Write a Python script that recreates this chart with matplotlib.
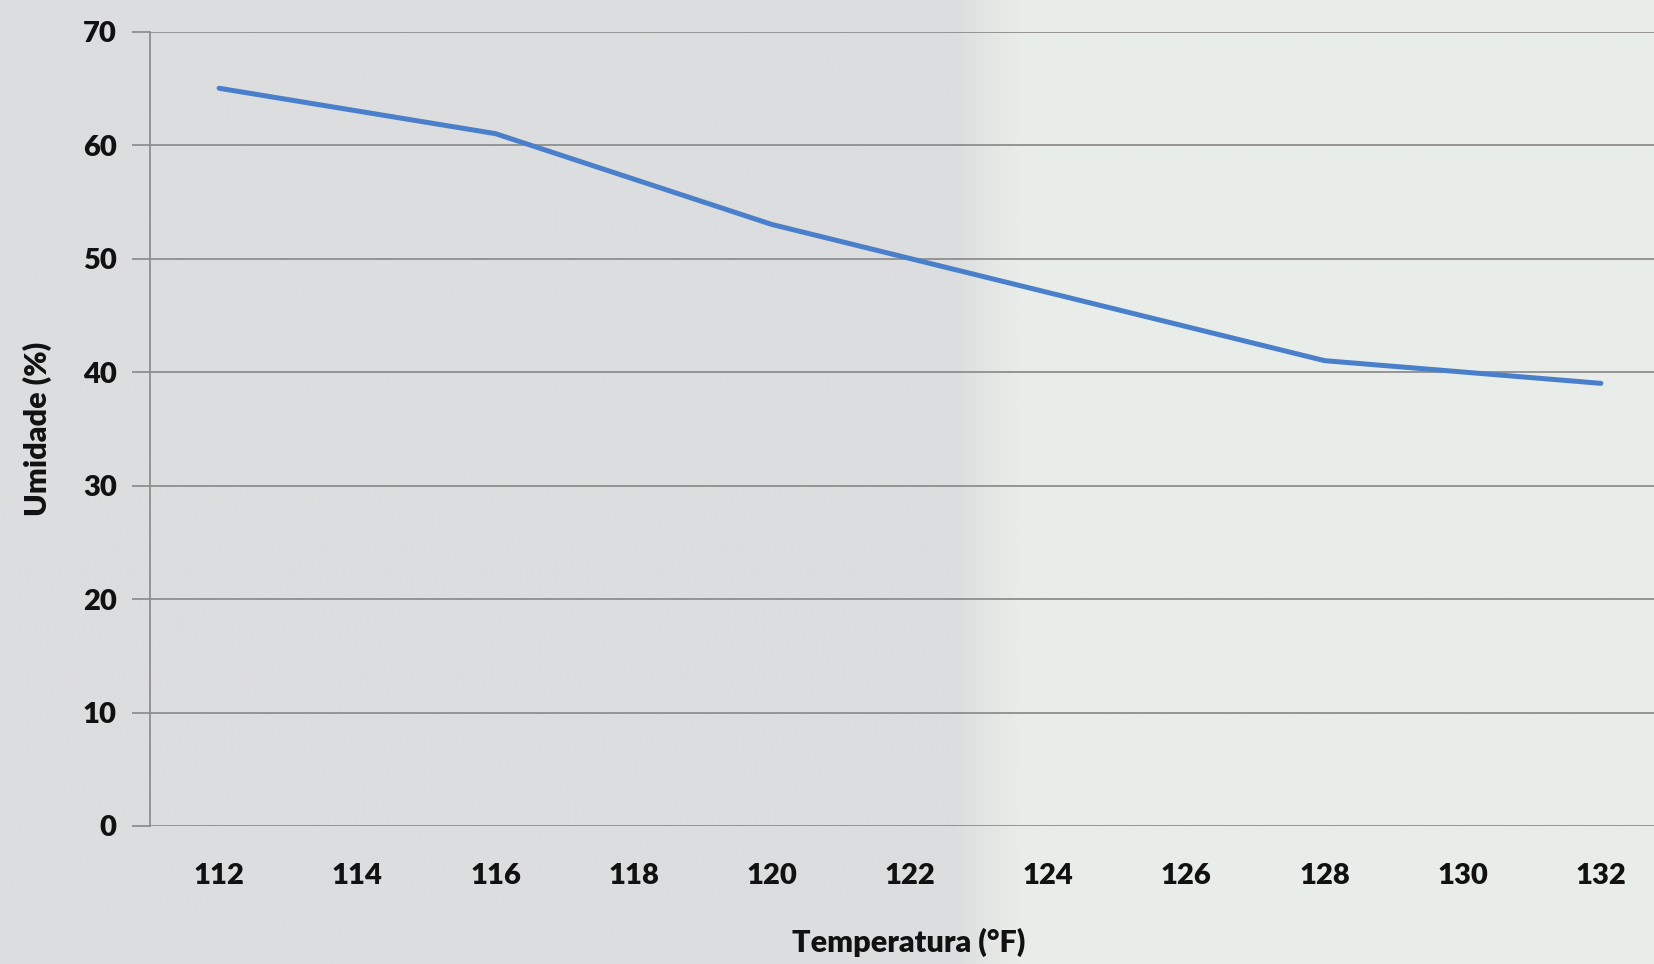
import numpy as np
import matplotlib.pyplot as plt

temperatura = [112, 114, 116, 118, 120, 122, 124, 126, 128, 130, 132]
umidade = [65, 63, 61, 57, 53, 50, 47, 44, 41, 40, 39]
y_ticks = [0, 10, 20, 30, 40, 50, 60, 70]

plt.rcParams['font.family'] = ['Lato', 'DejaVu Sans']

fig = plt.figure(figsize=(16.54, 9.64), dpi=100)

# background: gray on the left, light greenish on the right
bg = fig.add_axes([0, 0, 1, 1], zorder=-1)
xs = np.linspace(0, 1, 600)
t = np.clip((xs - 0.575) / 0.04, 0, 1)
left = np.array([220, 221, 222]) / 255
right = np.array([233, 237, 233]) / 255
row = left[None, :] * (1 - t[:, None]) + right[None, :] * t[:, None]
bg.imshow(row[None, :, :], aspect='auto', extent=[0, 1, 0, 1])
bg.axis('off')

ax = fig.add_axes([150 / 1654, 138 / 964, 1520 / 1654, 794.5 / 964])
ax.set_facecolor('none')
ax.plot(temperatura, umidade, color='#4a7fcb', linewidth=3.6, solid_capstyle='round')

ax.set_xlim(111, 133)
ax.set_ylim(0, 70)
ax.set_xticks(temperatura)
ax.set_yticks(y_ticks)
ax.grid(axis='y', color='#8e8e8e', linewidth=1.3)
ax.set_axisbelow(True)
for s in ['top', 'right', 'bottom']:
    ax.spines[s].set_visible(False)
ax.spines['left'].set_color('#8e8e8e')
ax.spines['left'].set_linewidth(1.3)
ax.tick_params(axis='y', length=13, width=1.3, color='#8e8e8e', pad=11,
               labelsize=21)
ax.tick_params(axis='x', length=0, pad=27, labelsize=21)
for lb in ax.get_xticklabels() + ax.get_yticklabels():
    lb.set_fontweight('heavy')
    lb.set_color('#111111')

ax.set_xlabel('Temperatura (°F)', fontsize=22, fontweight='heavy', color='#111111')
ax.set_ylabel('Umidade (%)', fontsize=22, fontweight='heavy', color='#111111')
ax.xaxis.label.set_va('center')
ax.yaxis.label.set_va('center')
ax.xaxis.set_label_coords((909 - 150) / 1520, -(942 - 826) / 794.5)
ax.yaxis.set_label_coords(-(150 - 37) / 1520, 0.5)

fig.savefig('out.png', dpi=100)
